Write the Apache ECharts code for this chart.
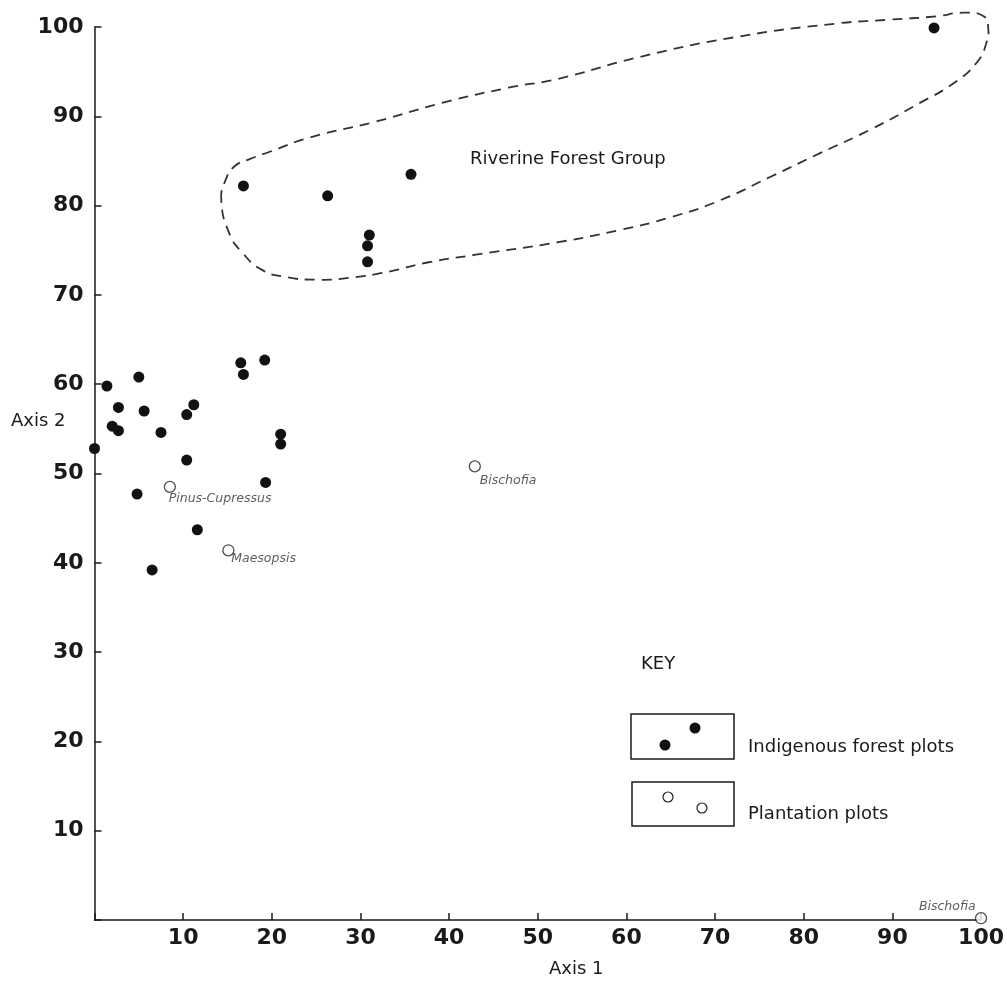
<!DOCTYPE html>
<html>
<head>
<meta charset="utf-8">
<title>Ordination of forest plots</title>
<script src="https://cdn.jsdelivr.net/npm/echarts@6/dist/echarts.min.js"></script>
<style>
  html, body { margin: 0; padding: 0; background: #ffffff; }
  #chart { width: 1007px; height: 981px; }
</style>
</head>
<body>
<div id="chart"></div>
<script>
// Ordination scores of the plots (Axis 1, Axis 2)
const indigenousPlots = [
  [1.4, 59.8], [5.0, 60.8], [2.7, 57.4], [5.6, 57.0], [2.0, 55.3],
  [2.7, 54.8], [7.5, 54.6], [0.0, 52.8], [11.2, 57.7], [10.4, 56.6],
  [10.4, 51.5], [16.5, 62.4], [16.8, 61.1], [19.2, 62.7], [21.0, 54.4],
  [21.0, 53.3], [19.3, 49.0], [4.8, 47.7], [11.6, 43.7], [6.5, 39.2],
  // riverine plots
  [16.8, 82.2], [26.3, 81.1], [35.7, 83.5], [31.0, 76.7], [30.8, 75.5],
  [30.8, 73.7], [94.7, 99.9]
];

const plantationPlots = [
  [8.5, 48.5], [15.1, 41.4], [42.9, 50.8], [100.0, 0.2]
];
const plantationNames = ['Pinus-Cupressus', 'Maesopsis', 'Bischofia', 'Bischofia'];

// Outline enclosing the riverine forest group (closed automatically)
const riverineEnvelope = [
  [14.3, 80.6], [14.8, 82.9], [15.8, 84.4], [17.5, 85.2], [19.7, 86.0],
  [24.2, 87.6], [31.7, 89.4], [39.2, 91.5], [46.7, 93.2], [52.3, 94.2],
  [61.3, 96.6], [72.5, 98.9], [83.8, 100.4], [89.4, 100.8], [95.0, 101.2],
  [98.0, 101.6], [100.3, 101.2], [100.8, 100.0], [100.6, 98.2], [99.5, 96.0],
  [96.9, 93.7], [93.1, 91.5], [87.5, 88.5], [81.9, 85.9], [76.2, 83.2],
  [70.6, 80.6], [65.0, 78.7], [59.4, 77.3], [52.3, 75.9], [43.0, 74.5],
  [37.4, 73.6], [33.2, 72.6], [28.7, 71.9], [25.0, 71.7], [21.6, 72.0],
  [18.9, 72.8], [16.7, 74.7], [15.2, 76.9]
];

const axisTicks = { min: 0, max: 100, interval: 10 };
const axis1Title = 'Axis 1';
const axis2Title = 'Axis 2';
const groupTitle = 'Riverine Forest Group';
const keyTitle = 'KEY';
const keyLabels = ['Indigenous forest plots', 'Plantation plots'];

// per-label offsets for the plantation names
const nameOffsets = [[5, 12], [9, 8], [11, 14], [-56, -12]];

const TICK_FONT = '"DejaVu Sans", Verdana, sans-serif';
const TEXT_FONT = '"DejaVu Sans", Verdana, sans-serif';
const INK = '#1a1a1a';

const chart = echarts.init(document.getElementById('chart'), null, { renderer: 'canvas' });

const axisCommon = {
  type: 'value',
  min: axisTicks.min,
  max: axisTicks.max,
  interval: axisTicks.interval,
  splitLine: { show: false },
  axisLine: { show: true, onZero: false, lineStyle: { color: INK, width: 1.5 } },
  axisTick: { show: true, inside: true, length: 7, lineStyle: { color: INK, width: 1.5 } },
  axisLabel: {
    color: INK,
    fontFamily: TICK_FONT,
    fontWeight: 'bold',
    fontSize: 22,
    formatter: v => (v === 0 ? '' : String(v))
  }
};

const option = {
  animation: false,
  backgroundColor: '#ffffff',
  grid: { left: 94.5, right: 23, top: 27, bottom: 61, containLabel: false },
  xAxis: Object.assign({}, axisCommon, {
    axisLabel: Object.assign({}, axisCommon.axisLabel, { margin: 7 })
  }),
  yAxis: Object.assign({}, axisCommon, {
    axisLabel: Object.assign({}, axisCommon.axisLabel, { margin: 11 })
  }),
  series: [
    {
      name: 'envelope',
      type: 'custom',
      coordinateSystem: 'cartesian2d',
      data: [[50, 85]],
      clip: false,
      silent: true,
      z: 1,
      renderItem: (params, api) => ({
        type: 'polygon',
        shape: {
          points: riverineEnvelope.map(p => api.coord(p)),
          smooth: 0.5
        },
        style: { fill: 'none', stroke: '#333', lineWidth: 1.8, lineDash: [10, 7] }
      })
    },
    {
      name: 'Indigenous forest plots',
      type: 'scatter',
      data: indigenousPlots,
      symbol: 'circle',
      symbolSize: 11,
      clip: false,
      z: 3,
      itemStyle: { color: '#111', opacity: 1 }
    },
    {
      name: 'Plantation plots',
      type: 'scatter',
      data: plantationPlots.map((p, i) => ({
        value: p,
        name: plantationNames[i],
        label: {
          show: true,
          position: nameOffsets[i],
          formatter: '{b}',
          fontFamily: TEXT_FONT,
          fontStyle: 'italic',
          fontSize: 12.5,
          color: '#333'
        }
      })),
      symbol: 'circle',
      symbolSize: 11,
      clip: false,
      z: 3,
      itemStyle: { color: '#fff', borderColor: '#222', borderWidth: 1.3 }
    }
  ],
  graphic: [
    {
      type: 'text', left: 11, top: 412,
      style: { text: axis2Title, font: '18px ' + TEXT_FONT, fill: INK }
    },
    {
      type: 'text', left: 549, top: 960,
      style: { text: axis1Title, font: '18px ' + TEXT_FONT, fill: INK }
    },
    {
      type: 'text', left: 470, top: 150,
      style: { text: groupTitle, font: '18px ' + TEXT_FONT, fill: INK }
    },
    {
      type: 'text', left: 641, top: 655,
      style: { text: keyTitle, font: '18px ' + TEXT_FONT, fill: INK }
    },
    // key: indigenous plots
    {
      type: 'rect', shape: { x: 631, y: 714, width: 103, height: 45 },
      style: { fill: 'none', stroke: INK, lineWidth: 1.5 }
    },
    { type: 'circle', shape: { cx: 665, cy: 745, r: 5.5 }, style: { fill: '#111' } },
    { type: 'circle', shape: { cx: 695, cy: 728, r: 5.5 }, style: { fill: '#111' } },
    {
      type: 'text', left: 748, top: 738,
      style: { text: keyLabels[0], font: '18px ' + TEXT_FONT, fill: INK }
    },
    // key: plantation plots
    {
      type: 'rect', shape: { x: 632, y: 782, width: 102, height: 44 },
      style: { fill: 'none', stroke: INK, lineWidth: 1.5 }
    },
    { type: 'circle', shape: { cx: 668, cy: 797, r: 5 }, style: { fill: '#fff', stroke: '#222', lineWidth: 1.2 } },
    { type: 'circle', shape: { cx: 702, cy: 808, r: 5 }, style: { fill: '#fff', stroke: '#222', lineWidth: 1.2 } },
    {
      type: 'text', left: 748, top: 805,
      style: { text: keyLabels[1], font: '18px ' + TEXT_FONT, fill: INK }
    }
  ]
};

chart.setOption(option);
</script>
</body>
</html>
